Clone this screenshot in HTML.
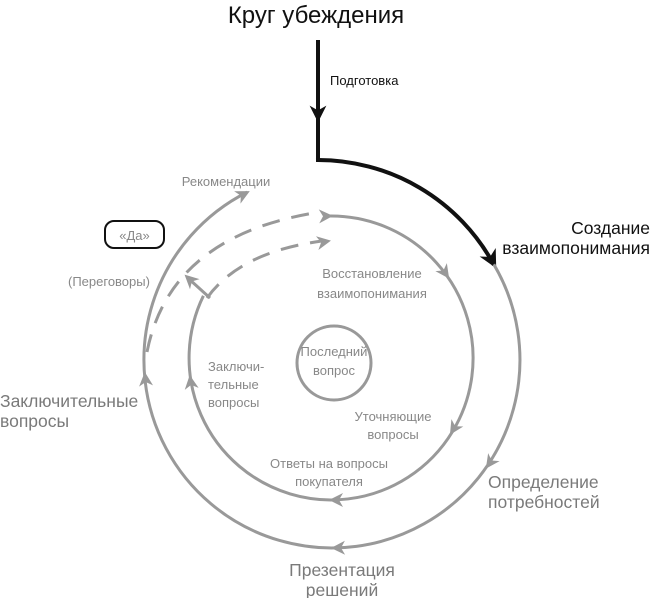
<!DOCTYPE html>
<html><head><meta charset="utf-8"><style>
html,body{margin:0;padding:0;background:#fff;}
body{width:651px;height:598px;position:relative;overflow:hidden;font-family:"Liberation Sans","Noto Sans CJK SC",sans-serif;}
svg{position:absolute;left:0;top:0;}
text{font-family:"Liberation Sans","Noto Sans CJK SC",sans-serif;}
</style></head><body>
<svg width="651" height="598" viewBox="0 0 651 598">
<defs>
<polygon id="ah" points="2,0 -12,-7 -8,0 -12,7"/>
</defs>
<line x1="318" y1="40" x2="318" y2="160" stroke="#111" stroke-width="4"/>
<use href="#ah" fill="#111" transform="translate(318,120) rotate(90) scale(1.2)"/>
<path d="M316,160 A200,200 0 0 1 494,265" fill="none" stroke="#111" stroke-width="4"/>
<use href="#ah" fill="#111" transform="translate(495,266) rotate(62) scale(1.3)"/>
<path d="M493.8,264.3 A188,188 0 1 1 247.2,192.1" fill="none" stroke="#999" stroke-width="3"/>
<g fill="#999">
<use href="#ah" transform="translate(248,192) rotate(-27)"/>
<use href="#ah" transform="translate(487,467) rotate(125)"/>
<use href="#ah" transform="translate(333,548) rotate(179)"/>
<use href="#ah" transform="translate(145,374) rotate(265)"/>
</g>
<path d="M327,216 A142,142 0 1 1 203.4,295.8" fill="none" stroke="#999" stroke-width="3"/>
<g fill="#999">
<use href="#ah" transform="translate(331,216) rotate(-2)"/>
<use href="#ah" transform="translate(448,277) rotate(55)"/>
<use href="#ah" transform="translate(451,433) rotate(122)"/>
<use href="#ah" transform="translate(331,500) rotate(180)"/>
<use href="#ah" transform="translate(190,377) rotate(262)"/>
<use href="#ah" transform="translate(186,276) rotate(-137)"/>
<use href="#ah" transform="translate(329,241) rotate(-10)"/>
</g>
<line x1="210" y1="298" x2="189" y2="279" stroke="#999" stroke-width="3"/>
<path d="M147,352 Q170,235 320,212" fill="none" stroke="#999" stroke-width="3" stroke-dasharray="18,12"/>
<path d="M207,298 Q240,252 322,241" fill="none" stroke="#999" stroke-width="3" stroke-dasharray="18,12"/>
<circle cx="334" cy="363" r="37" fill="none" stroke="#999" stroke-width="3"/>
<rect x="105" y="221" width="59" height="27" rx="9" fill="none" stroke="#111" stroke-width="2"/>
<text x="134.5" y="240" font-size="13" fill="#888" text-anchor="middle">«Да»</text>
<text x="316" y="23" font-size="24" fill="#111" text-anchor="middle">Круг убеждения</text>
<text x="330" y="85" font-size="13" fill="#111">Подготовка</text>
<g font-size="17.5" fill="#111" text-anchor="end">
<text x="650" y="234">Создание</text>
<text x="650" y="254">взаимопонимания</text>
</g>
<g font-size="17.5" fill="#7a7a7a">
<text x="488" y="488">Определение</text>
<text x="488" y="508">потребностей</text>
<text x="342" y="576" text-anchor="middle">Презентация</text>
<text x="342" y="596" text-anchor="middle">решений</text>
<text x="0" y="407">Заключительные</text>
<text x="0" y="427">вопросы</text>
</g>
<g font-size="13" fill="#888">
<text x="68" y="286">(Переговоры)</text>
<text x="226" y="186" text-anchor="middle">Рекомендации</text>
<text x="372" y="278" text-anchor="middle">Восстановление</text>
<text x="372" y="298" text-anchor="middle">взаимопонимания</text>
<text x="208" y="371">Заключи-</text>
<text x="208" y="389">тельные</text>
<text x="208" y="407">вопросы</text>
<text x="334" y="356" text-anchor="middle">Последний</text>
<text x="334" y="375" text-anchor="middle">вопрос</text>
<text x="393" y="421" text-anchor="middle">Уточняющие</text>
<text x="393" y="439" text-anchor="middle">вопросы</text>
<text x="329" y="468" text-anchor="middle">Ответы на вопросы</text>
<text x="329" y="486" text-anchor="middle">покупателя</text>
</g>
</svg>
</body></html>
